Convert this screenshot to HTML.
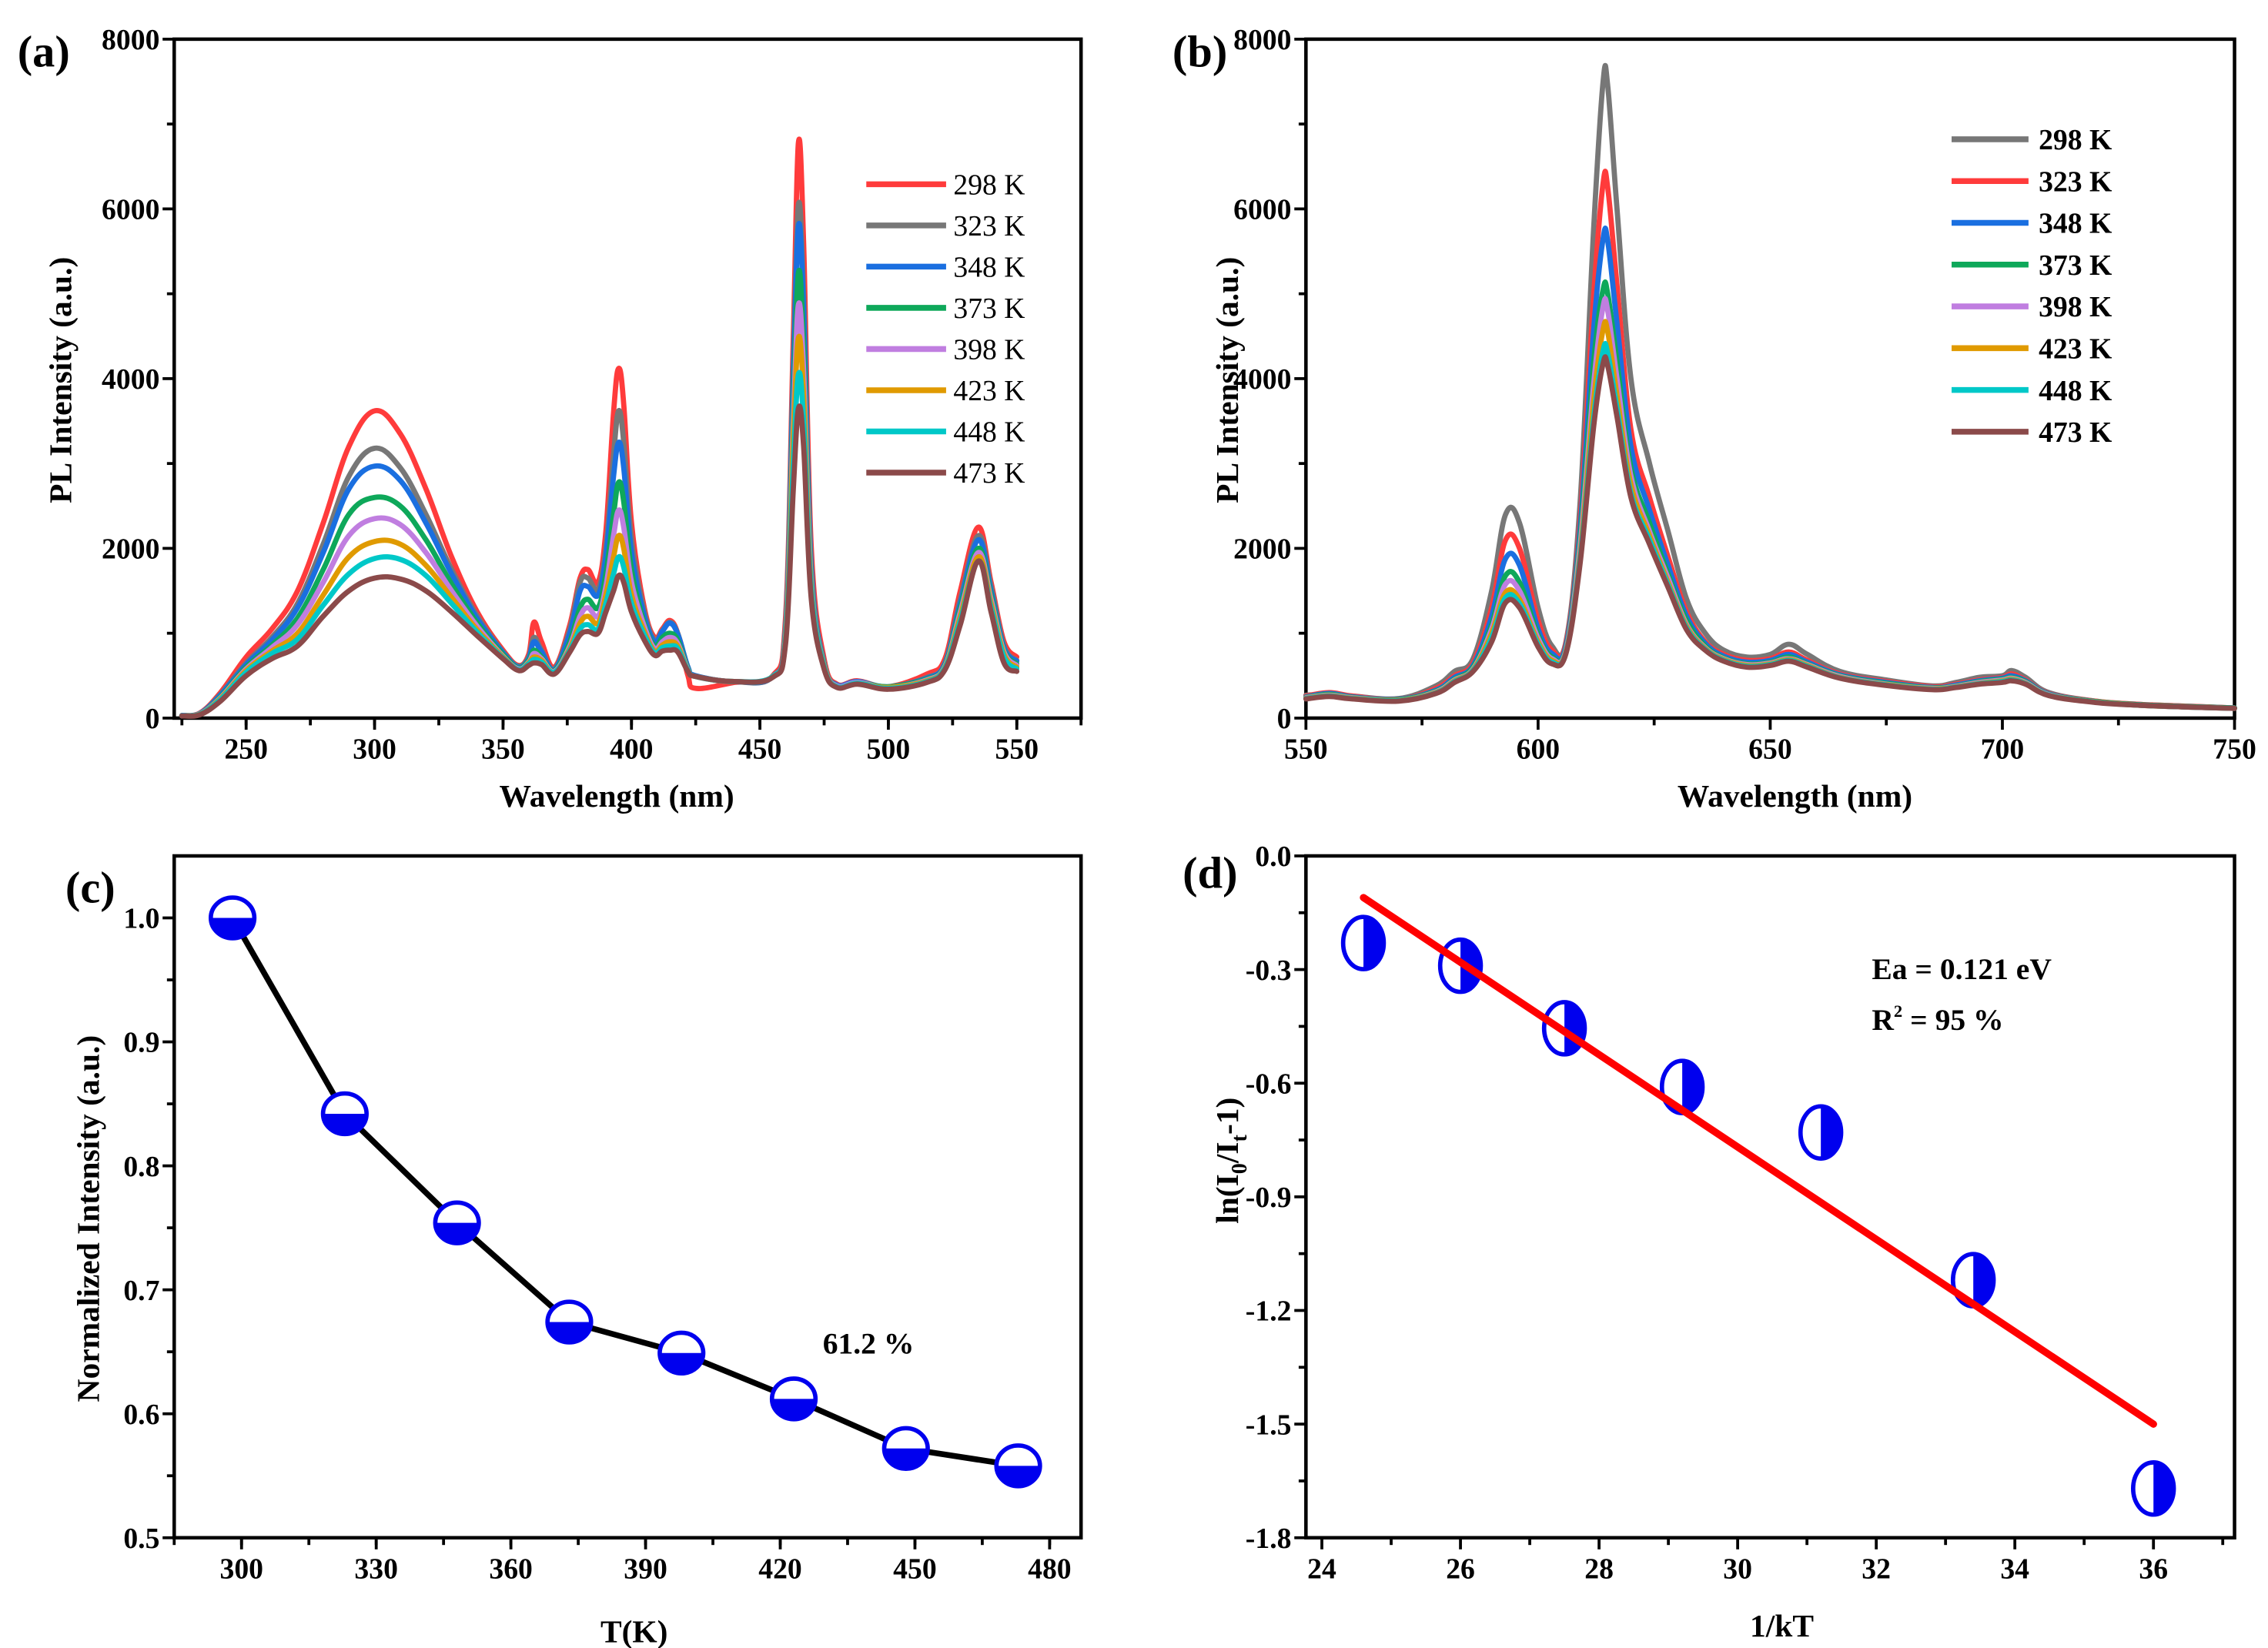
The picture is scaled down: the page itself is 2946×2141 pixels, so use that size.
<!DOCTYPE html>
<html><head><meta charset="utf-8"><style>
html,body{margin:0;padding:0;background:#fff;}
svg{display:block;font-family:"Liberation Serif",serif;}
</style></head><body>
<svg id="fig" xmlns="http://www.w3.org/2000/svg" width="2946" height="2141" viewBox="0 0 1563 1136">
<rect width="1563" height="1136" fill="#fff"/>
</svg>
<script>
// ---------- Panel (a) data ----------
const aWave = [225,232,240,250,260,270,280,290,300,310,320,330,340,350,356,360,362,365,370,376,380,383,387,390,393,395,397,400,405,409,412,415,418,422,425,440,455,460,463,465,467,470,475,480,488,500,515,522,528,535,540,545,550];
const aLabels = ["298 K","323 K","348 K","373 K","398 K","423 K","448 K","473 K"];
const aColors = ["#ff3b3b","#777777","#1a6fe0","#0ea85a","#c07ee0","#e09a00","#00c8c8","#8b4a4a"];
const a298 = [30,60,300,720,1050,1500,2300,3200,3620,3350,2700,1900,1250,800,620,750,1130,900,600,1100,1650,1750,1600,2200,3600,4120,3700,2300,1300,950,1050,1150,1000,500,350,420,500,1200,4500,6780,5600,2000,700,400,440,370,520,700,1500,2250,1600,900,720];
const a323 = [30,55,280,650,950,1350,2050,2850,3180,2950,2400,1750,1200,780,610,720,950,800,580,1050,1600,1650,1520,2000,3100,3620,3250,2100,1250,920,1030,1130,1000,600,500,430,490,1100,4200,6050,5000,1800,650,390,430,370,480,650,1400,2150,1550,850,680];
const a348 = [30,55,270,630,920,1300,1950,2700,2970,2800,2300,1700,1170,770,600,700,900,780,570,1000,1500,1550,1450,1900,2850,3250,2950,1950,1200,900,1020,1120,990,600,500,430,490,1050,4000,5800,4800,1750,640,390,430,370,470,640,1350,2100,1500,830,670];
const a373 = [28,50,250,600,860,1180,1750,2400,2600,2500,2100,1580,1120,750,590,680,800,720,560,900,1300,1400,1300,1700,2400,2780,2550,1750,1120,850,950,1000,920,580,490,430,490,1000,3700,5250,4400,1650,630,380,420,370,460,620,1300,2000,1450,800,640];
const a398 = [28,50,240,580,830,1100,1600,2150,2350,2280,1950,1500,1080,730,580,660,760,700,550,850,1200,1300,1200,1550,2150,2450,2250,1600,1080,820,900,950,880,570,490,430,490,980,3500,4870,4100,1600,620,380,420,360,450,610,1250,1950,1400,780,620];
const a423 = [28,48,230,560,790,1000,1450,1900,2080,2050,1800,1420,1040,720,570,650,720,680,540,820,1120,1200,1120,1450,1900,2150,2000,1450,1020,790,860,900,850,560,490,430,490,950,3300,4480,3800,1550,610,370,410,360,440,600,1200,1900,1350,750,600];
const a448 = [27,45,220,540,760,930,1330,1700,1880,1870,1680,1350,1010,710,570,640,690,660,540,800,1050,1100,1050,1350,1700,1900,1780,1350,980,770,830,850,820,560,490,430,490,920,3000,4050,3500,1500,600,370,410,350,430,590,1150,1850,1300,720,580];
const a473 = [25,40,200,500,700,850,1200,1500,1650,1640,1500,1250,970,700,560,620,650,630,520,780,980,1020,1000,1250,1500,1680,1600,1250,920,740,790,800,780,550,490,430,480,880,2700,3650,3200,1400,580,360,400,340,420,570,1100,1850,1250,650,550];
const aXTicks = [250,300,350,400,450,500,550];
const specYTicks = [0,2000,4000,6000,8000];

// ---------- Panel (b) data ----------
const bWave = [550,555,560,570,578,582,586,590,593,596,600,603,606,609,612,614,615,617,620,624,628,632,636,640,645,650,654,658,665,675,685,690,695,700,702,705,710,720,730,740,750];
const bLabels = ["298 K","323 K","348 K","373 K","398 K","423 K","448 K","473 K"];
const bColors = ["#777777","#ff3b3b","#1a6fe0","#0ea85a","#c07ee0","#e09a00","#00c8c8","#8b4a4a"];
const b298 = [270,280,260,230,380,550,700,1500,2400,2300,1300,850,900,2500,5800,7500,7450,6000,4000,3000,2200,1400,1000,800,720,750,870,750,550,450,380,420,480,500,560,480,300,200,160,140,120];
const b323 = [260,300,260,220,350,500,650,1300,2100,2000,1150,800,880,2300,5000,6300,6250,5100,3400,2600,1900,1250,900,750,680,700,780,680,520,430,370,400,450,480,520,450,290,200,160,140,120];
const b348 = [250,290,250,220,330,480,620,1200,1880,1800,1050,760,850,2200,4600,5650,5620,4650,3200,2450,1800,1200,880,730,660,680,750,660,510,420,360,390,440,470,500,440,285,195,155,135,120];
const b373 = [245,280,245,215,320,460,600,1100,1680,1600,980,720,820,2100,4200,5050,5000,4200,2950,2300,1700,1150,850,710,640,660,720,640,500,410,355,380,430,460,480,430,280,195,155,135,120];
const b398 = [240,270,240,210,310,450,580,1050,1580,1500,940,700,800,2000,3950,4850,4800,4000,2850,2200,1650,1100,830,700,630,650,700,630,490,400,350,375,420,450,470,420,275,190,150,130,115];
const b423 = [235,265,235,210,300,440,570,1000,1480,1400,900,680,780,1900,3750,4580,4550,3800,2750,2150,1600,1080,820,690,620,640,690,620,480,395,345,370,410,440,460,410,270,190,150,130,115];
const b448 = [230,260,230,205,295,430,560,950,1420,1350,870,660,770,1850,3550,4330,4300,3650,2650,2100,1570,1060,810,680,610,630,680,610,475,390,340,365,405,430,450,405,268,188,150,130,115];
const b473 = [225,255,225,200,290,420,550,900,1360,1300,840,640,760,1800,3450,4180,4150,3550,2600,2050,1540,1040,800,670,600,620,670,600,470,385,335,360,400,420,440,400,265,185,150,130,115];
const bXTicks = [550,600,650,700,750];

// ---------- Panel (c) data ----------
const cTemp = [298,323,348,373,398,423,448,473];
const cNorm = [1.0,0.842,0.754,0.674,0.649,0.612,0.572,0.558];
const cXTicks = [300,330,360,390,420,450,480];
const cYTicks = [0.5,0.6,0.7,0.8,0.9,1.0];

// ---------- Panel (d) data ----------
const dInvKT = [24.6,26.0,27.5,29.2,31.2,33.4,36.0];
const dLn = [-0.23,-0.29,-0.455,-0.61,-0.73,-1.12,-1.67];
const dFitX = [24.6,36.0];
const dFitY = [-0.11,-1.50];
const dXTicks = [24,26,28,30,32,34,36];
const dYTicks = [0.0,-0.3,-0.6,-0.9,-1.2,-1.5,-1.8];

const NS = "http://www.w3.org/2000/svg";
const svg = document.getElementById('fig');
function mk(tag, attrs, parent){
  const e = document.createElementNS(NS, tag);
  for (const k in attrs) e.setAttribute(k, attrs[k]);
  (parent||svg).appendChild(e);
  return e;
}
function lin(d0,d1,r0,r1){ return v => r0 + (v-d0)/(d1-d0)*(r1-r0); }
function smooth(P){
  let d='M'+P[0][0].toFixed(1)+','+P[0][1].toFixed(1);
  for(let i=0;i<P.length-1;i++){
    const p0=P[Math.max(0,i-1)],p1=P[i],p2=P[i+1],p3=P[Math.min(P.length-1,i+2)];
    const t=0.18;
    const c1=[p1[0]+(p2[0]-p0[0])*t,p1[1]+(p2[1]-p0[1])*t];
    const c2=[p2[0]-(p3[0]-p1[0])*t,p2[1]-(p3[1]-p1[1])*t];
    d+=' C'+c1.map(v=>v.toFixed(1)).join(',')+' '+c2.map(v=>v.toFixed(1)).join(',')+' '+p2[0].toFixed(1)+','+p2[1].toFixed(1);
  }
  return d;
}

function axes(name, L,R,T,B, xs, ys, xTicks, yTicks, xMinor, yMinor, xFmt, yFmt){
  const g = mk('g',{});
  
  
  const fr = mk('rect',{x:L,y:T,width:R-L,height:B-T,fill:'none',stroke:'#000','stroke-width':2.4},g);
  
  
  xTicks.forEach(v=>{
    const x=xs(v);
    mk('line',{x1:x,x2:x,y1:B,y2:B+8,stroke:'#000','stroke-width':2},g);
    const t=mk('text',{x:x,y:B+28,'text-anchor':'middle','font-size':20,'font-weight':'bold'},g);
    t.textContent=xFmt(v);
    
    
  });
  xMinor.forEach(v=>{const x=xs(v); mk('line',{x1:x,x2:x,y1:B,y2:B+5,stroke:'#000','stroke-width':2},g);});
  yTicks.forEach(v=>{
    const y=ys(v);
    mk('line',{x1:L-8,x2:L,y1:y,y2:y,stroke:'#000','stroke-width':2},g);
    const t=mk('text',{x:L-10,y:y+7,'text-anchor':'end','font-size':20,'font-weight':'bold'},g);
    t.textContent=yFmt(v);
    
    
  });
  yMinor.forEach(v=>{const y=ys(v); mk('line',{x1:L-5,x2:L,y1:y,y2:y,stroke:'#000','stroke-width':2},g);});
}
function range(a,b,s){const r=[];for(let v=a;v<=b+1e-9;v+=s)r.push(+v.toFixed(4));return r;}
function text(str,x,y,size,attrs,name){
  const t=mk('text',Object.assign({x:x,y:y,'font-size':size},attrs||{}));
  t.textContent=str;
  
  
  return t;
}
function vtext(str,x,y,size,name){
  const t=mk('text',{x:0,y:0,'font-size':size,'font-weight':'bold','text-anchor':'middle',transform:`translate(${x},${y}) rotate(-90)`});
  t.textContent=str;
  
  
  return t;
}

// ===== Panel (a) =====
{
  const L=120,R=745,T=27,B=495;
  const xs=lin(222,575,L,R), ys=lin(0,8000,B,T);
  axes('panel-a',L,R,T,B,xs,ys,aXTicks,specYTicks,range(225,575,25),range(1000,7000,2000),v=>v,v=>v);
  const series=[a298,a323,a348,a373,a398,a423,a448,a473];
  series.forEach((s,i)=>{
    const P=aWave.map((w,j)=>[xs(w),ys(s[j])]);
    const pl=mk('path',{d:smooth(P),fill:'none',stroke:aColors[i],'stroke-width':3.6,'stroke-linejoin':'round','stroke-linecap':'round'});
    
    
  });
  aLabels.forEach((lab,i)=>{
    const y=127+i*28.4;
    const ln=mk('line',{x1:597,x2:652,y1:y,y2:y,stroke:aColors[i],'stroke-width':4});
    
    
    text(lab,657,y+7,20,{},'panel-a-legend-entry');
  });
  text('(a)',12,46,31,{'font-weight':'bold'},'panel-a-label');
  text('Wavelength (nm)',425,556,22,{'font-weight':'bold','text-anchor':'middle'},'panel-a-x-axis-title');
  vtext('PL Intensity (a.u.)',49,262,22,'panel-a-y-axis-title');
}
// ===== Panel (b) =====
{
  const L=900,R=1540,T=27,B=495;
  const xs=lin(550,750,L,R), ys=lin(0,8000,B,T);
  axes('panel-b',L,R,T,B,xs,ys,bXTicks,specYTicks,range(575,725,50),range(1000,7000,2000),v=>v,v=>v);
  const series=[b298,b323,b348,b373,b398,b423,b448,b473];
  series.forEach((s,i)=>{
    const P=bWave.map((w,j)=>[xs(w),ys(s[j])]);
    const pl=mk('path',{d:smooth(P),fill:'none',stroke:bColors[i],'stroke-width':3.6,'stroke-linejoin':'round','stroke-linecap':'round'});
    
    
  });
  bLabels.forEach((lab,i)=>{
    const y=96+i*28.8;
    const ln=mk('line',{x1:1345,x2:1398,y1:y,y2:y,stroke:bColors[i],'stroke-width':4});
    
    
    text(lab,1405,y+7,20,{'font-weight':'bold'},'panel-b-legend-entry');
  });
  text('(b)',808,46,31,{'font-weight':'bold'},'panel-b-label');
  text('Wavelength (nm)',1237,556,22,{'font-weight':'bold','text-anchor':'middle'},'panel-b-x-axis-title');
  vtext('PL Intensity (a.u.)',853,262,22,'panel-b-y-axis-title');
}
// ===== Panel (c) =====
{
  const L=120,R=745,T=590,B=1060;
  const xs=lin(285,487,L,R), ys=lin(0.5,1.05,B,T);
  axes('panel-c',L,R,T,B,xs,ys,cXTicks,cYTicks,range(285,480,15),range(0.55,1.0,0.1),v=>v,v=>v.toFixed(1));
  const pts=cTemp.map((t,i)=>xs(t)+','+ys(cNorm[i])).join(' ');
  const pl=mk('polyline',{points:pts,fill:'none',stroke:'#000','stroke-width':4,'stroke-linejoin':'round'});
  
  
  cTemp.forEach((t,i)=>{
    const cx=xs(t), cy=ys(cNorm[i]), r=14;
    const g=mk('g',{});
    
    
    mk('ellipse',{cx:cx,cy:cy,rx:r+1,ry:r,fill:'#fff'},g);
    mk('path',{d:`M${cx-r-1},${cy} A${r+1},${r} 0 0 0 ${cx+r+1},${cy} Z`,fill:'#0000ee'},g);
    mk('ellipse',{cx:cx,cy:cy,rx:r+1,ry:r,fill:'none',stroke:'#0000ee','stroke-width':3},g);
  });
  text('61.2 %',567,933,21,{'font-weight':'bold'},'panel-c-annotation');
  text('(c)',45,622,31,{'font-weight':'bold'},'panel-c-label');
  text('T(K)',437,1132,22,{'font-weight':'bold','text-anchor':'middle'},'panel-c-x-axis-title');
  vtext('Normalized Intensity (a.u.)',68,840,22,'panel-c-y-axis-title');
}
// ===== Panel (d) =====
{
  const L=900,R=1540,T=590,B=1060;
  const xs=lin(23.77,37.17,L,R), ys=lin(0,-1.8,T,B);
  axes('panel-d',L,R,T,B,xs,ys,dXTicks,dYTicks,range(25,37,2),range(-1.65,-0.15,0.3),v=>v,v=>v.toFixed(1));
  const fl=mk('line',{x1:xs(dFitX[0]),y1:ys(dFitY[0]),x2:xs(dFitX[1]),y2:ys(dFitY[1]),stroke:'#ff0000','stroke-width':5,'stroke-linecap':'round'});
  dInvKT.forEach((v,i)=>{
    const cx=xs(v), cy=ys(dLn[i]), rx=14, ry=18;
    const g=mk('g',{});
    
    
    mk('ellipse',{cx:cx,cy:cy,rx:rx,ry:ry,fill:'#fff'},g);
    mk('path',{d:`M${cx},${cy-ry} A${rx},${ry} 0 0 1 ${cx},${cy+ry} Z`,fill:'#0000ee'},g);
    mk('ellipse',{cx:cx,cy:cy,rx:rx,ry:ry,fill:'none',stroke:'#0000ee','stroke-width':3},g);
  });
  svg.appendChild(fl);
  
  
  text('Ea = 0.121 eV',1290,675,21,{'font-weight':'bold'},'panel-d-activation-energy');
  const r2=mk('text',{x:1290,y:710,'font-size':21,'font-weight':'bold'});
  r2.innerHTML='R<tspan font-size="12" dy="-9">2</tspan><tspan dy="9"> = 95 %</tspan>';
  
  
  text('(d)',815,612,31,{'font-weight':'bold'},'panel-d-label');
  text('1/kT',1228,1128,22,{'font-weight':'bold','text-anchor':'middle'},'panel-d-x-axis-title');
  const yt=mk('text',{x:0,y:0,'font-size':22,'font-weight':'bold','text-anchor':'middle',transform:'translate(853,800) rotate(-90)'});
  yt.innerHTML='ln(I<tspan font-size="15" dy="6">0</tspan><tspan dy="-6">/I</tspan><tspan font-size="15" dy="6">t</tspan><tspan dy="-6">-1)</tspan>';
  
  
}
</script>
</body></html>
